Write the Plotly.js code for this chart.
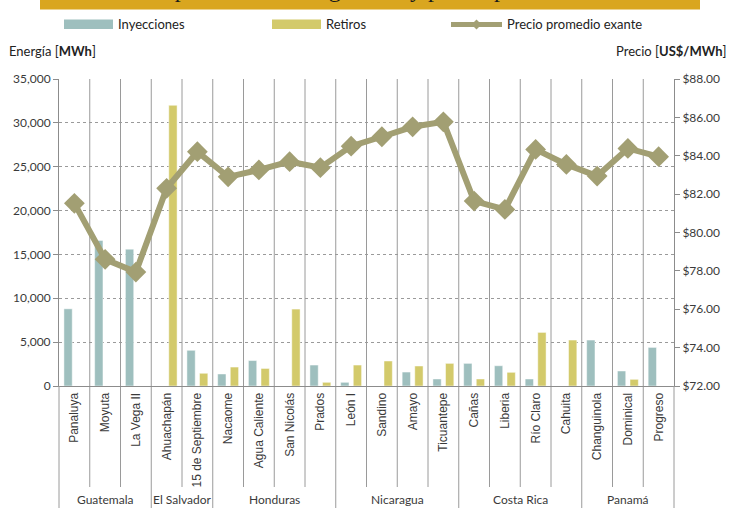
<!DOCTYPE html>
<html>
<head>
<meta charset="utf-8">
<script src="https://cdn.plot.ly/plotly-3.0.1.min.js"></script>
<style>html,body{margin:0;padding:0;background:#fff;}#chart{width:731px;height:508px;}</style>
</head>
<body>
<div id="chart"></div>
<script>
const plants = ["Panaluya","Moyuta","La Vega II","Ahuachapán","15 de Septiembre","Nacaome","Agua Caliente","San Nicolás","Prados","León I","Sandino","Amayo","Ticuantepe","Cañas","Liberia","Río Claro","Cahuita","Changuinola","Dominical","Progreso"];
const inyecciones = [8800,16600,15600,0,4070,1370,2900,0,2390,420,0,1590,800,2580,2310,800,0,5240,1710,4400];
const retiros = [0,0,0,32000,1450,2160,2000,8770,420,2390,2850,2280,2580,800,1560,6110,5240,0,760,0];
const precio = [81.52,78.60,77.94,82.30,84.21,82.90,83.26,83.69,83.38,84.50,84.99,85.51,85.77,81.64,81.20,84.33,83.55,82.94,84.38,83.95];
const groupNames = ["Guatemala","El Salvador","Honduras","Nicaragua","Costa Rica","Panamá"];
const groupSizes = [3,2,4,4,4,3];

const teal = '#9ebfbe', yellow = '#d3ca6b', olive = '#a29f73';
const gridCol = '#9a9a9a', axCol = '#8c8c8c', txt = '#3a3a3a';
const W = 731, H = 508, L = 59, R = 57, T = 79, B = 122;
const pw = W - L - R, ph = H - T - B;
const px = x => (x - L) / pw;
const py = y => (H - B - y) / ph;

const traces = [
  {type:'bar', name:'Inyecciones', x:plants, y:inyecciones, marker:{color:teal, line:{color:'rgba(255,255,255,0.6)', width:0.8}}},
  {type:'bar', name:'Retiros', x:plants, y:retiros, marker:{color:yellow, line:{color:'rgba(255,255,255,0.6)', width:0.8}}},
  {type:'scatter', mode:'lines+markers', name:'Precio promedio exante', x:plants, y:precio, yaxis:'y2',
   line:{color:olive, width:6}, marker:{symbol:'diamond', size:16, color:olive}, cliponaxis:false}
];

const shapes = [];
const annotations = [];
// vertical category dividers
const boundaries = new Set();
let acc = 0;
groupSizes.forEach(s => { acc += s; boundaries.add(acc); });
for (let i = 1; i < plants.length; i++) {
  const isGroup = boundaries.has(i);
  shapes.push({type:'line', xref:'x', yref:'paper', x0:i-0.5, x1:i-0.5, y0:isGroup ? -0.45 : py(487), y1:1, line:{color:gridCol, width:1}, layer:'below'});
}
shapes.push({type:'line', xref:'x domain', yref:'paper', x0:0, x1:0, y0:-0.45, y1:0, line:{color:gridCol, width:1}});
shapes.push({type:'line', xref:'x domain', yref:'paper', x0:1, x1:1, y0:-0.45, y1:0, line:{color:gridCol, width:1}});

// group labels
let start = 0;
groupNames.forEach((g, k) => {
  const c = start + (groupSizes[k] - 1) / 2;
  annotations.push({xref:'x', yref:'paper', x:c, y:py(499.5), yanchor:'middle', xanchor:'center', text:g, showarrow:false, font:{family:'Lato, sans-serif', size:12, color:txt}});
  start += groupSizes[k];
});

// title banner
shapes.push({type:'rect', xref:'paper', yref:'paper', x0:px(40), x1:px(700), y0:py(9.5), y1:py(-5), fillcolor:'#d9a61f', line:{width:0}});
annotations.push({xref:'paper', yref:'paper', x:px(387), y:py(4), xanchor:'center', yanchor:'bottom', text:'Comparativo de energía neta y precio promedio nodal', showarrow:false, font:{family:'Liberation Serif, serif', size:24, color:'#1a1a1a'}});

// legend
const ly0 = py(29), ly1 = py(19.5);
shapes.push({type:'rect', xref:'paper', yref:'paper', x0:px(64), x1:px(113), y0:ly0, y1:ly1, fillcolor:teal, line:{width:0}});
shapes.push({type:'rect', xref:'paper', yref:'paper', x0:px(272), x1:px(321), y0:ly0, y1:ly1, fillcolor:yellow, line:{width:0}});
shapes.push({type:'line', xref:'paper', yref:'paper', x0:px(451), x1:px(502), y0:py(24.5), y1:py(24.5), line:{color:olive, width:5}});
shapes.push({type:'path', xref:'paper', yref:'paper', xsizemode:'pixel', ysizemode:'pixel', xanchor:px(476.5), yanchor:py(24.5), path:'M -5 0 L 0 5 L 5 0 L 0 -5 Z', fillcolor:olive, line:{width:0}});
const legFont = {family:'Lato, sans-serif', size:13, color:'#222'};
annotations.push({xref:'paper', yref:'paper', x:px(116), y:py(24.5), xanchor:'left', yanchor:'middle', text:'Inyecciones', showarrow:false, font:legFont});
annotations.push({xref:'paper', yref:'paper', x:px(324), y:py(24.5), xanchor:'left', yanchor:'middle', text:'Retiros', showarrow:false, font:legFont});
annotations.push({xref:'paper', yref:'paper', x:px(505), y:py(24.5), xanchor:'left', yanchor:'middle', text:'Precio promedio exante', showarrow:false, font:legFont});

// axis titles
annotations.push({xref:'paper', yref:'paper', x:px(7), y:py(51), xanchor:'left', yanchor:'middle', text:'Energía [<b>MWh</b>]', showarrow:false, font:legFont});
annotations.push({xref:'paper', yref:'paper', x:px(729), y:py(51), xanchor:'right', yanchor:'middle', text:'Precio [<b>US$/MWh</b>]', showarrow:false, font:legFont});

const layout = {
  width:W, height:H,
  margin:{l:L, r:R, t:T, b:B, pad:0, autoexpand:false},
  paper_bgcolor:'#fff', plot_bgcolor:'#fff',
  showlegend:false,
  barmode:'group', bargap:0.18, bargroupgap:0.34,
  xaxis:{type:'category', range:[-0.5, plants.length - 0.5], automargin:false, tickangle:-90, showgrid:false, showline:true, linecolor:axCol, linewidth:1, ticks:'', ticklabelstandoff:1,
         tickfont:{family:'Liberation Sans, Arial, sans-serif', size:12, color:txt}, fixedrange:true},
  yaxis:{automargin:false, range:[0,35000], dtick:5000, tickformat:',d', showgrid:true, gridcolor:gridCol, griddash:'dot', gridwidth:1,
         showline:true, linecolor:axCol, ticks:'outside', ticklen:5, tickcolor:axCol, zeroline:false,
         tickfont:{family:'Lato, sans-serif', size:12, color:txt}},
  yaxis2:{automargin:false, overlaying:'y', side:'right', range:[72,88], dtick:2, tickformat:'.2f', tickprefix:'$', showgrid:false,
          showline:true, linecolor:axCol, ticks:'outside', ticklen:5, tickcolor:axCol, zeroline:false,
          tickfont:{family:'Lato, sans-serif', size:12, color:txt}},
  shapes:shapes, annotations:annotations
};
Plotly.newPlot('chart', traces, layout, {displayModeBar:false, staticPlot:true});
</script>
</body>
</html>
